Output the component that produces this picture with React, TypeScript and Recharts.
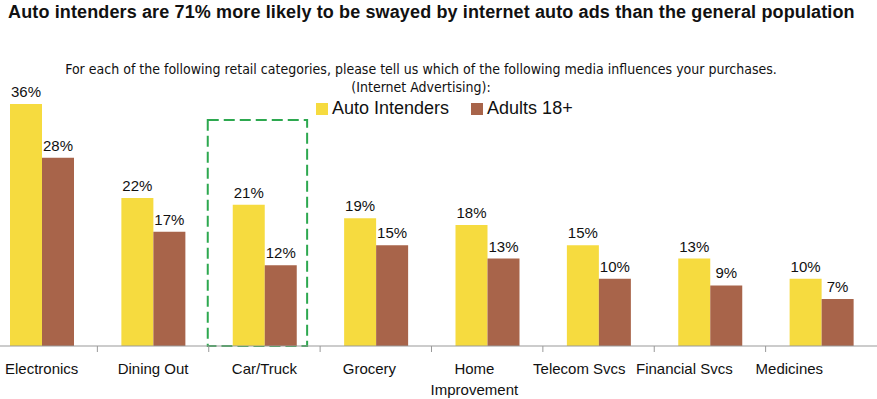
import { BarChart, Bar, XAxis, YAxis, LabelList, Legend, ReferenceArea } from "recharts";

const categories = [
  "Electronics",
  "Dining Out",
  "Car/Truck",
  "Grocery",
  "Home Improvement",
  "Telecom Svcs",
  "Financial Svcs",
  "Medicines",
];
const autoIntenders = [36, 22, 21, 19, 18, 15, 13, 10];
const adults = [28, 17, 12, 15, 13, 10, 9, 7];
const highlighted = "Car/Truck";
const legendOrder = ["Auto Intenders", "Adults 18+"];

const YELLOW = "#F6DB3F";
const BROWN = "#A8644A";
const FONT = "'Liberation Sans', Arial, sans-serif";

const data = categories.map((name, i) => ({
  name,
  auto: autoIntenders[i],
  adults: adults[i],
}));

// category label + separator tick at the left edge of each band
// (labels in the original drift slightly left towards the right side)
const CategoryTick = (props: any) => {
  const { x, y, payload, index } = props;
  const label: string = payload.value;
  const lines = label.length > 15 ? label.split(" ") : [label];
  const lx = x - Math.max(0, index - 2) * 6.4;
  return (
    <g>
      <line x1={x - 55.7} x2={x - 55.7} y1={y - 8} y2={y - 2} stroke="#999" />
      <text
        x={lx}
        y={y + 20}
        textAnchor="middle"
        fontFamily={FONT}
        fontSize={15}
        fill="#111"
      >
        {lines.map((l, i) => (
          <tspan key={l} x={lx} dy={i === 0 ? 0 : 21}>
            {l}
          </tspan>
        ))}
      </text>
    </g>
  );
};

const LegendContent = (props: any) => {
  const items = [...props.payload].sort(
    (a: any, b: any) => legendOrder.indexOf(a.value) - legendOrder.indexOf(b.value)
  );
  return (
    <div style={{ display: "flex", gap: 22, fontFamily: FONT, fontSize: 18, color: "#111" }}>
      {items.map((p: any) => (
        <div key={p.value} style={{ display: "flex", alignItems: "center" }}>
          <span style={{ width: 12, height: 12, background: p.color, marginRight: 4 }} />
          {p.value}
        </div>
      ))}
    </div>
  );
};

const DashedBox = (props: any) => (
  <rect
    x={props.x - 1}
    y={props.y}
    width={props.width - 12}
    height={props.height}
    fill="none"
    stroke="#2DA84F"
    strokeWidth={2}
    strokeDasharray="11 5"
  />
);

export default function App() {
  return (
    <div style={{ position: "absolute", left: 0, top: 0, width: 877, height: 399, overflow: "hidden", background: "#fff" }}>
      <div
        style={{
          position: "absolute",
          left: 8,
          top: 2,
          fontFamily: FONT,
          fontWeight: 700,
          fontSize: 18,
          letterSpacing: 0.13,
          whiteSpace: "nowrap",
          color: "#111",
        }}
      >
        Auto intenders are 71% more likely to be swayed by internet auto ads than the general population
      </div>
      <div
        style={{
          position: "absolute",
          left: 0,
          width: 842,
          top: 60,
          textAlign: "center",
          fontFamily: "'Liberation Sans Narrow', 'DejaVu Sans Condensed', sans-serif",
          fontSize: 14,
          lineHeight: "18px",
          color: "#111",
        }}
      >
        For each of the following retail categories, please tell us which of the following media influences your purchases.
        <br />
        (Internet Advertising):
      </div>
      <div style={{ position: "absolute", left: -14, top: 0 }}>
        <BarChart
          width={891}
          height={399}
          data={data}
          margin={{ top: 77, right: 0, bottom: 23, left: 0 }}
          barGap={0}
          barSize={32}
        >
          <XAxis
            dataKey="name"
            interval={0}
            tickLine={false}
            axisLine={{ stroke: "#999" }}
            tick={<CategoryTick />}
          />
          <YAxis hide domain={[0, 40]} />
          <Legend
            verticalAlign="middle"
            layout="horizontal"
            content={<LegendContent />}
            wrapperStyle={{ position: "absolute", top: 98, left: 330, width: "auto" }}
          />
          <ReferenceArea
            x1={highlighted}
            x2={highlighted}
            y1={0}
            y2={33.6}
            shape={<DashedBox />}
            ifOverflow="visible"
          />
          <Bar dataKey="auto" name="Auto Intenders" fill={YELLOW} isAnimationActive={false}>
            <LabelList
              dataKey="auto"
              position="top"
              offset={7}
              formatter={(v: any) => `${v}%`}
              style={{ fontFamily: FONT, fontSize: 15, fill: "#111" }}
            />
          </Bar>
          <Bar dataKey="adults" name="Adults 18+" fill={BROWN} isAnimationActive={false}>
            <LabelList
              dataKey="adults"
              position="top"
              offset={7}
              formatter={(v: any) => `${v}%`}
              style={{ fontFamily: FONT, fontSize: 15, fill: "#111" }}
            />
          </Bar>
        </BarChart>
      </div>
    </div>
  );
}
